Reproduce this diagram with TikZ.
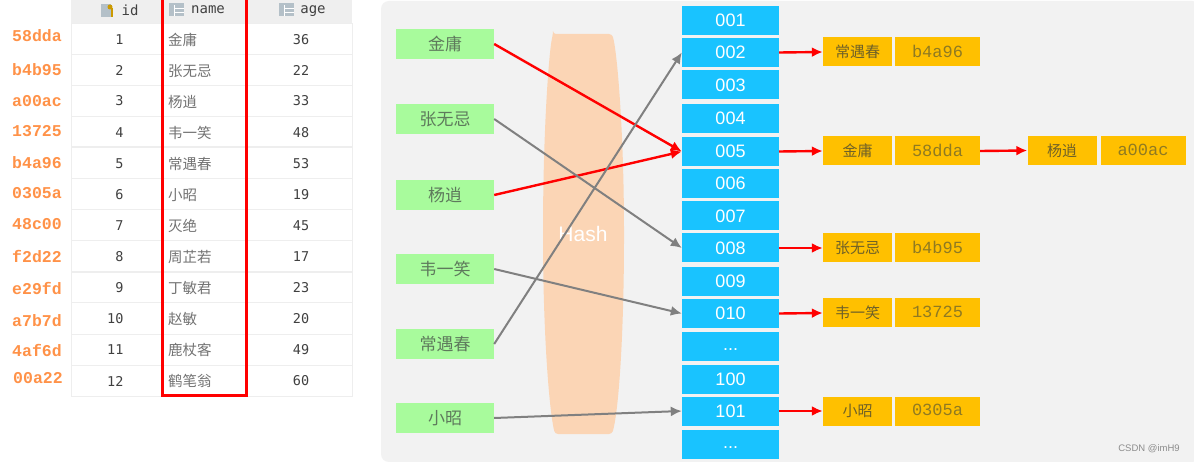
\documentclass[tikz,border=0pt]{standalone}
\usepackage{fontspec}
\setmainfont{Liberation Sans}
\newfontfamily\cjk{Noto Sans CJK SC}
\newfontfamily\addrfont{Liberation Mono}
\newfontfamily\cellfont{DejaVu Sans Mono}
\usetikzlibrary{arrows.meta}
\definecolor{hashpanel}{HTML}{F2F2F2}
\definecolor{hashband}{HTML}{FBD5B5}
\definecolor{keygreen}{HTML}{A8FB9C}
\definecolor{keytext}{HTML}{5E7A5C}
\definecolor{slotblue}{HTML}{19C3FF}
\definecolor{entryamber}{HTML}{FFC000}
\definecolor{nametext}{HTML}{6F6128}
\definecolor{addrtext}{HTML}{8F7A22}
\definecolor{addrorange}{HTML}{FF9248}
\definecolor{tblhead}{HTML}{EFEFEF}
\definecolor{tblline}{HTML}{EEEEEE}
\definecolor{linkgrey}{HTML}{808080}
\definecolor{iconblue}{HTML}{B4C0C8}
\tikzset{
  addr/.style={addrorange,font=\addrfont\bfseries\fontsize{16.5}{16.5}\selectfont},
  cellnum/.style={black!75,font=\cellfont\fontsize{13.5}{13.5}\selectfont},
  cellname/.style={black!55,anchor=west,inner sep=0pt,font=\cjk\fontsize{14.5}{14.5}\selectfont},
  headtext/.style={black!75,font=\cellfont\fontsize{14}{14}\selectfont},
  keybox/.style={fill=keygreen,text=keytext,minimum width=98pt,minimum height=30pt,inner sep=0pt,font=\cjk\fontsize{17}{17}\selectfont},
  slotbox/.style={fill=slotblue,text=white,minimum width=97pt,minimum height=29pt,inner sep=0pt,font=\fontsize{18}{18}\selectfont},
  namebox/.style={fill=entryamber,text=nametext,minimum width=69pt,minimum height=29pt,inner sep=0pt,font=\cjk\fontsize{15}{15}\selectfont},
  addrbox/.style={fill=entryamber,text=addrtext,text depth=2pt,minimum width=85pt,minimum height=29pt,inner sep=0pt,font=\addrfont\fontsize{17}{17}\selectfont},
  hitlink/.style={-{Latex[length=11pt,width=10pt]},red,line width=2.4pt},
  greylink/.style={-{Latex[length=11pt,width=10pt]},linkgrey,line width=2pt},
}
\newcommand{\tblicon}[2]{%
  \fill[iconblue] (#1,#2) rectangle ++(15,13);
  \draw[white,line width=0.6pt] (#1+5,#2+2) -- (#1+5,#2+13) (#1+5,#2+5) -- (#1+15,#2+5) (#1+5,#2+9) -- (#1+15,#2+9);}

\begin{document}
\begin{tikzpicture}[x=1pt,y=-1pt]
  \useasboundingbox (0,0) rectangle (1194,462);
  \fill[white] (0,0) rectangle (1194,462);

  % --- the table on the left
  \fill[tblhead] (71,0) rectangle (352,23);
  \draw[tblline,line width=1pt] (71,24) rectangle (352,396);
  \draw[tblline,line width=1pt] (71,55) -- (352,55) (71,86) -- (352,86) (71,117) -- (352,117)
        (71,179) -- (352,179) (71,210) -- (352,210) (71,241) -- (352,241)
        (71,303) -- (352,303) (71,334) -- (352,334) (71,365) -- (352,365);
  \draw[tblline,line width=2.5pt] (71,147) -- (352,147) (71,272) -- (352,272);

  \fill[iconblue] (101,4) rectangle ++(10,13);
  \fill[entryamber!80!black] (110,7) circle (2.5pt);
  \draw[entryamber!80!black,line width=1.2pt] (112,8) -- (112,17);
  \tblicon{169}{3}
  \tblicon{279}{3}
  \node[headtext] (headid) at (130,10) {id};
  \node[headtext] (headname) at (208,10) {name};
  \node[headtext] (headage) at (313,11) {age};

  \node[addr] (addr1) at (37,36) {58dda};
  \node[addr] (addr2) at (37,70) {b4b95};
  \node[addr] (addr3) at (37,101) {a00ac};
  \node[addr] (addr4) at (37,131) {13725};
  \node[addr] (addr5) at (37,163) {b4a96};
  \node[addr] (addr6) at (37,193) {0305a};
  \node[addr] (addr7) at (37,224) {48c00};
  \node[addr] (addr8) at (37,256) {f2d22};
  \node[addr] (addr9) at (37,288) {e29fd};
  \node[addr] (addr10) at (37,321) {a7b7d};
  \node[addr] (addr11) at (37,350) {4af6d};
  \node[addr] (addr12) at (38,378) {00a22};

  \node[cellnum,anchor=east] (id1) at (127,40) {1};
  \node[cellnum,anchor=east] (id2) at (127,70) {2};
  \node[cellnum,anchor=east] (id3) at (127,101) {3};
  \node[cellnum,anchor=east] (id4) at (127,133) {4};
  \node[cellnum,anchor=east] (id5) at (127,164) {5};
  \node[cellnum,anchor=east] (id6) at (127,195) {6};
  \node[cellnum,anchor=east] (id7) at (127,226) {7};
  \node[cellnum,anchor=east] (id8) at (127,257) {8};
  \node[cellnum,anchor=east] (id9) at (127,288) {9};
  \node[cellnum,anchor=east] (id10) at (127,319) {10};
  \node[cellnum,anchor=east] (id11) at (127,350) {11};
  \node[cellnum,anchor=east] (id12) at (127,381) {12};

  \node[cellname] (name1) at (168,40) {金庸};
  \node[cellname] (name2) at (168,71) {张无忌};
  \node[cellname] (name3) at (168,102) {杨逍};
  \node[cellname] (name4) at (168,133) {韦一笑};
  \node[cellname] (name5) at (168,164) {常遇春};
  \node[cellname] (name6) at (168,195) {小昭};
  \node[cellname] (name7) at (168,226) {灭绝};
  \node[cellname] (name8) at (168,257) {周芷若};
  \node[cellname] (name9) at (168,288) {丁敏君};
  \node[cellname] (name10) at (168,319) {赵敏};
  \node[cellname] (name11) at (168,350) {鹿杖客};
  \node[cellname] (name12) at (168,381) {鹤笔翁};

  \node[cellnum] (age1) at (301,40) {36};
  \node[cellnum] (age2) at (301,70) {22};
  \node[cellnum] (age3) at (301,101) {33};
  \node[cellnum] (age4) at (301,133) {48};
  \node[cellnum] (age5) at (301,164) {53};
  \node[cellnum] (age6) at (301,195) {19};
  \node[cellnum] (age7) at (301,226) {45};
  \node[cellnum] (age8) at (301,257) {17};
  \node[cellnum] (age9) at (301,288) {23};
  \node[cellnum] (age10) at (301,319) {20};
  \node[cellnum] (age11) at (301,350) {49};
  \node[cellnum] (age12) at (301,381) {60};

  \draw[red,line width=3pt] (162,-3) rectangle (246,395);

  % --- the hash panel and its band
  \fill[hashpanel,rounded corners=8pt] (381,1) rectangle (1200,462);
  \fill[hashband,rounded corners=3pt] (553,34) -- (612,34)
        .. controls (617,50) and (624,130) .. (624,235)
        .. controls (624,330) and (619,410) .. (612,434)
        -- (555,434)
        .. controls (549,410) and (543,330) .. (543,235)
        .. controls (543,130) and (549,50) .. (553,34) -- cycle;
  \node[white,font=\fontsize{21}{21}\selectfont] (hash) at (583,234) {Hash};

  % --- keys
  \node[keybox] (zhang) at (445,44) {金庸};
  \node[keybox] (wuji) at (445,119) {张无忌};
  \node[keybox] (yang) at (445,195) {杨逍};
  \node[keybox] (wei) at (445,269) {韦一笑};
  \node[keybox] (chang) at (445,344) {常遇春};
  \node[keybox] (zhao) at (445,418) {小昭};

  % --- buckets
  \node[slotbox] (s001) at (730.5,20.5) {001};
  \node[slotbox] (s002) at (730.5,52.5) {002};
  \node[slotbox] (s003) at (730.5,85) {003};
  \node[slotbox] (s004) at (730.5,118.5) {004};
  \node[slotbox] (s005) at (730.5,151.5) {005};
  \node[slotbox] (s006) at (730.5,183.5) {006};
  \node[slotbox] (s007) at (730.5,216) {007};
  \node[slotbox] (s008) at (730.5,248) {008};
  \node[slotbox] (s009) at (730.5,281.5) {009};
  \node[slotbox] (s010) at (730.5,313.5) {010};
  \node[slotbox] (sdotsa) at (730.5,346) {\raisebox{-8pt}{...}};
  \node[slotbox] (s100) at (730.5,379) {100};
  \node[slotbox] (s101) at (730.5,411) {101};
  \node[slotbox] (sdotsb) at (730.5,444.5) {\raisebox{-8pt}{...}};

  % --- chained entries
  \node[namebox] (n002) at (857.5,52) {常遇春};
  \node[addrbox] (a002) at (937.5,52) {b4a96};
  \node[namebox] (n005) at (857.5,151) {金庸};
  \node[addrbox] (a005) at (937.5,151) {58dda};
  \node[namebox] (n005b) at (1062,150.5) {杨逍};
  \node[addrbox] (a005b) at (1143,150.5) {a00ac};
  \node[namebox] (n008) at (857.5,248) {张无忌};
  \node[addrbox] (a008) at (937.5,248) {b4b95};
  \node[namebox] (n010) at (857.5,313) {韦一笑};
  \node[addrbox] (a010) at (937.5,313) {13725};
  \node[namebox] (n101) at (857.5,411) {小昭};
  \node[addrbox] (a101) at (937.5,411) {0305a};

  % --- links
  \draw[hitlink] (zhang.east) -- (s005.west);
  \draw[hitlink] (yang.east) -- (s005.west);
  \draw[greylink] (wuji.east) -- (s008.west);
  \draw[greylink] (wei.east) -- (s010.west);
  \draw[greylink] (chang.east) -- (s002.west);
  \draw[greylink] (zhao.east) -- (s101.west);
  \draw[hitlink] (s002.east) -- (n002.west);
  \draw[hitlink] (s005.east) -- (n005.west);
  \draw[hitlink] (a005.east) -- (n005b.west);
  \draw[hitlink] (s008.east) -- (n008.west);
  \draw[hitlink] (s010.east) -- (n010.west);
  \draw[hitlink] (s101.east) -- (n101.west);

  \node[black!45,font=\fontsize{9.5}{9.5}\selectfont] (mark) at (1149,449) {CSDN @imH9};
\end{tikzpicture}
\end{document}
